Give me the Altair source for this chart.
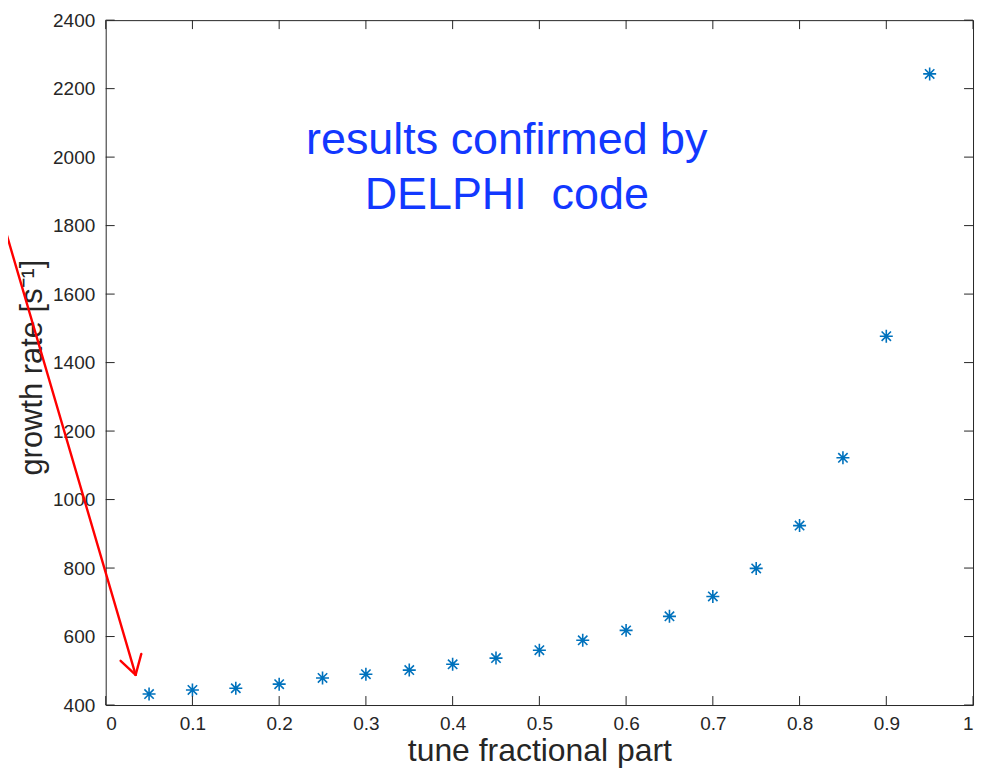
import altair as alt
import pandas as pd

# data
tune = [0.05, 0.10, 0.15, 0.20, 0.25, 0.30, 0.35, 0.40, 0.45, 0.50,
        0.55, 0.60, 0.65, 0.70, 0.75, 0.80, 0.85, 0.90, 0.95]
growth = [432, 444, 449, 461, 479, 490, 502, 519, 537, 560,
          589, 618, 659, 717, 799, 924, 1122, 1477, 2243]

x_ticks = [0, 0.1, 0.2, 0.3, 0.4, 0.5, 0.6, 0.7, 0.8, 0.9, 1.0]
y_ticks = [400, 600, 800, 1000, 1200, 1400, 1600, 1800, 2000, 2200, 2400]

note_lines = ["results confirmed by", "DELPHI\u00a0 code"]
note_x = [0.4624, 0.4624]
note_y = [2049, 1889]

# arrow segments (shaft and two head wings), data coordinates
arrow_x = [-0.135, 0.0172, 0.041]
arrow_y = [1954, 529, 549]
arrow_x2 = [0.0345, 0.0345, 0.0345]
arrow_y2 = [488, 488, 488]

FONT = "Liberation Sans"
AX = "#262626"
W, H = 870, 687
TICK = 9
ASTERISK = "M0,-1L0,1M-1,0L1,0M-0.72,-0.72L0.72,0.72M-0.72,0.72L0.72,-0.72"

df = pd.DataFrame({"x": tune, "y": growth})
notes = pd.DataFrame({"x": note_x, "y": note_y, "t": note_lines})
arrow = pd.DataFrame({"x": arrow_x, "y": arrow_y, "x2": arrow_x2, "y2": arrow_y2})
xt = pd.DataFrame({"v": x_ticks})
yt = pd.DataFrame({"v": y_ticks})

xscale = alt.Scale(domain=[0, 1], nice=False, zero=False)
yscale = alt.Scale(domain=[400, 2400], nice=False, zero=False)

main_x_axis = alt.Axis(values=x_ticks, format=".1~f", ticks=False, domain=False, grid=False,
                       labelFontSize=19, labelColor=AX, labelFont=FONT, labelPadding=10,
                       title="tune fractional part", titleFontSize=32, titleFont=FONT,
                       titleFontWeight="normal", titleColor=AX,
                       titleBaseline="alphabetic", titleY=56)
main_y_axis = alt.Axis(values=y_ticks, format="d", ticks=False, domain=False, grid=False,
                       labelFontSize=19, labelColor=AX, labelFont=FONT, labelPadding=11,
                       title="growth rate [s\u207b\u00b9]", titleFontSize=31, titleFont=FONT,
                       titleFontWeight="normal", titleColor=AX,
                       titleBaseline="alphabetic", titleX=-64, titleY=348, titleAngle=270)

points = alt.Chart(df).mark_point(
    shape=ASTERISK, size=170, filled=False, stroke="#0072BD", strokeWidth=1.6, opacity=1
).encode(
    x=alt.X("x:Q", scale=xscale, axis=main_x_axis),
    y=alt.Y("y:Q", scale=yscale, axis=main_y_axis),
)

tick_style = dict(color=AX, strokeWidth=1)
xt_bottom = alt.Chart(xt).mark_rule(**tick_style).encode(
    x=alt.X("v:Q", scale=xscale), y=alt.value(H), y2=alt.value(H - TICK))
xt_top = alt.Chart(xt).mark_rule(**tick_style).encode(
    x=alt.X("v:Q", scale=xscale), y=alt.value(0), y2=alt.value(TICK))
yt_left = alt.Chart(yt).mark_rule(**tick_style).encode(
    y=alt.Y("v:Q", scale=yscale), x=alt.value(0), x2=alt.value(TICK))
yt_right = alt.Chart(yt).mark_rule(**tick_style).encode(
    y=alt.Y("v:Q", scale=yscale), x=alt.value(W - TICK), x2=alt.value(W))

text = alt.Chart(notes).mark_text(
    font=FONT, fontSize=45, color="#1238ff", align="center", baseline="middle"
).encode(
    x=alt.X("x:Q", scale=xscale),
    y=alt.Y("y:Q", scale=yscale),
    text="t:N",
)

arrows = alt.Chart(arrow).mark_rule(color="#ff0000", strokeWidth=2.4, strokeCap="round").encode(
    x=alt.X("x:Q", scale=xscale),
    y=alt.Y("y:Q", scale=yscale),
    x2="x2:Q",
    y2="y2:Q",
)

chart = alt.layer(points, xt_bottom, xt_top, yt_left, yt_right, text, arrows).properties(
    width=W, height=H,
    autosize=alt.AutoSizeParams(type="none"),
    padding={"left": 98, "top": 11, "right": 10, "bottom": 65},
    background="white",
).configure_view(stroke=AX, strokeWidth=1)

chart.save("out.html", embed_options={"renderer": "svg", "actions": False})
